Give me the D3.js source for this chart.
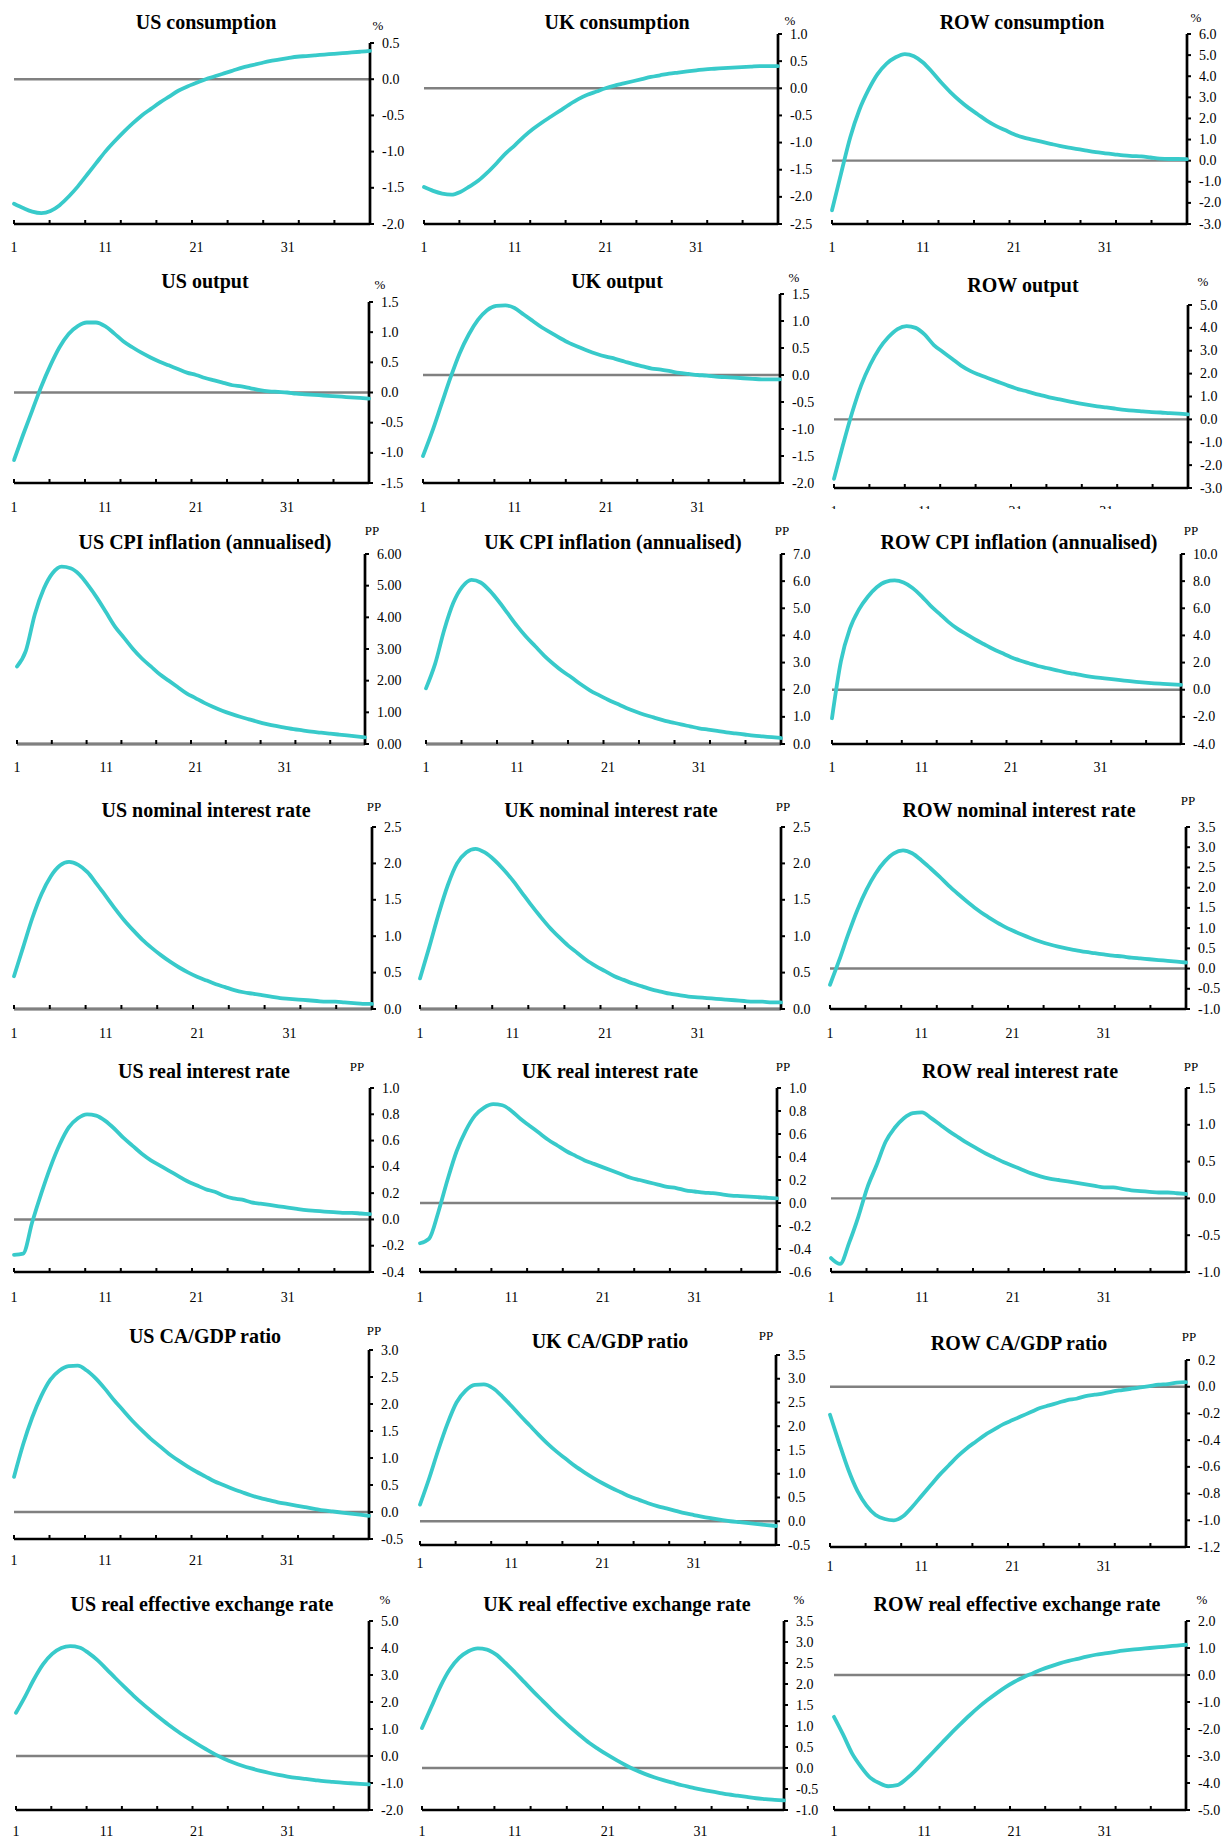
<!DOCTYPE html>
<meta charset="utf-8">
<style>
  body { margin: 0; background: #fff; }
  svg text { font-family: "Liberation Serif", "Times New Roman", serif; fill: #000; }
</style>
<body>
<svg id="chart" width="1225" height="1838"></svg>
<script src="https://d3js.org/d3.v7.min.js"></script>
<script>

const periods = [1, 2, 3, 4, 5, 6, 7, 8, 9, 10, 11, 12, 13, 14, 15, 16, 17, 18, 19, 20,
                 21, 22, 23, 24, 25, 26, 27, 28, 29, 30, 31, 32, 33, 34, 35, 36, 37, 38, 39, 40];
const xLabels = [1, 11, 21, 31];

const titles = [
  "US consumption", "UK consumption", "ROW consumption",
  "US output", "UK output", "ROW output",
  "US CPI inflation (annualised)", "UK CPI inflation (annualised)", "ROW CPI inflation (annualised)",
  "US nominal interest  rate", "UK nominal interest  rate", "ROW nominal interest  rate",
  "US real interest rate", "UK real interest  rate", "ROW real interest rate",
  "US CA/GDP ratio", "UK CA/GDP ratio", "ROW CA/GDP ratio",
  "US real effective exchange rate", "UK real effective exchange rate", "ROW real effective exchange rate"
];
const units = ["%", "%", "%", "%", "%", "%", "PP", "PP", "PP", "PP", "PP", "PP",
               "PP", "PP", "PP", "PP", "PP", "PP", "%", "%", "%"];

// series values (deviation from baseline)
const usConsumption = [-1.72, -1.78, -1.83, -1.85, -1.82, -1.74, -1.62, -1.48, -1.32, -1.16,
  -1.00, -0.86, -0.73, -0.61, -0.50, -0.41, -0.32, -0.24, -0.16, -0.10,
  -0.05, 0.00, 0.04, 0.08, 0.12, 0.16, 0.19, 0.22, 0.25, 0.27,
  0.29, 0.31, 0.32, 0.33, 0.34, 0.35, 0.36, 0.37, 0.38, 0.39];
const ukConsumption = [-1.82, -1.89, -1.94, -1.96, -1.91, -1.81, -1.70, -1.55, -1.38, -1.20,
  -1.05, -0.89, -0.75, -0.63, -0.52, -0.41, -0.30, -0.20, -0.12, -0.06,
  0.00, 0.05, 0.09, 0.13, 0.17, 0.21, 0.24, 0.27, 0.29, 0.31,
  0.33, 0.35, 0.36, 0.37, 0.38, 0.39, 0.40, 0.41, 0.41, 0.41];
const rowConsumption = [-2.35, -0.6, 1.1, 2.4, 3.35, 4.1, 4.6, 4.9, 5.05, 4.95,
  4.65, 4.2, 3.7, 3.25, 2.85, 2.5, 2.2, 1.9, 1.65, 1.45,
  1.25, 1.1, 1.0, 0.9, 0.8, 0.7, 0.62, 0.55, 0.47, 0.4,
  0.35, 0.3, 0.25, 0.22, 0.2, 0.15, 0.1, 0.08, 0.08, 0.07];

const usOutput = [-1.12, -0.7, -0.3, 0.1, 0.45, 0.75, 0.97, 1.1, 1.16, 1.16,
  1.1, 0.98, 0.85, 0.75, 0.66, 0.58, 0.51, 0.45, 0.39, 0.33,
  0.29, 0.24, 0.2, 0.16, 0.12, 0.1, 0.07, 0.04, 0.02, 0.01,
  0.0, -0.02, -0.03, -0.04, -0.05, -0.06, -0.07, -0.08, -0.09, -0.1];
const ukOutput = [-1.5, -1.05, -0.55, -0.05, 0.4, 0.75, 1.02, 1.2, 1.28, 1.29,
  1.24, 1.12, 1.0, 0.88, 0.78, 0.68, 0.59, 0.52, 0.45, 0.39,
  0.34, 0.3, 0.25, 0.2, 0.16, 0.12, 0.1, 0.07, 0.04, 0.02,
  0.0, -0.01, -0.03, -0.04, -0.05, -0.06, -0.07, -0.08, -0.08, -0.08];
const rowOutput = [-2.6, -1.1, 0.3, 1.5, 2.4, 3.1, 3.6, 3.95, 4.08, 4.0,
  3.7, 3.25, 2.95, 2.65, 2.35, 2.12, 1.95, 1.8, 1.65, 1.5,
  1.36, 1.25, 1.14, 1.04, 0.94, 0.86, 0.78, 0.7, 0.63, 0.57,
  0.52, 0.47, 0.42, 0.38, 0.35, 0.32, 0.3, 0.27, 0.25, 0.22];

const usCpi = [2.45, 2.95, 4.1, 4.9, 5.4, 5.6, 5.55, 5.35, 5.0, 4.6,
  4.15, 3.7, 3.35, 3.0, 2.7, 2.45, 2.2, 2.0, 1.8, 1.6,
  1.45, 1.3, 1.17, 1.05, 0.95, 0.86, 0.78, 0.7, 0.63, 0.57,
  0.52, 0.47, 0.43, 0.39, 0.36, 0.33, 0.3, 0.27, 0.24, 0.21];
const ukCpi = [2.05, 2.95, 4.2, 5.2, 5.8, 6.05, 5.95, 5.65, 5.25, 4.8,
  4.35, 3.95, 3.6, 3.25, 2.95, 2.68, 2.45, 2.2, 1.98, 1.8,
  1.63, 1.48, 1.33, 1.2, 1.08, 0.98, 0.88, 0.8, 0.72, 0.65,
  0.58, 0.53, 0.48, 0.43, 0.39, 0.35, 0.31, 0.28, 0.25, 0.22];
const rowCpi = [-2.1, 2.1, 4.5, 5.9, 6.85, 7.55, 7.95, 8.05, 7.9, 7.5,
  6.9, 6.2, 5.6, 5.0, 4.5, 4.1, 3.7, 3.35, 3.0, 2.7,
  2.4, 2.15, 1.95, 1.75, 1.6, 1.45, 1.3, 1.18, 1.05, 0.95,
  0.87, 0.8, 0.72, 0.65, 0.58, 0.52, 0.47, 0.43, 0.39, 0.35];

const usNominal = [0.45, 0.85, 1.25, 1.58, 1.82, 1.97, 2.02, 1.98, 1.88, 1.72,
  1.55, 1.38, 1.22, 1.08, 0.95, 0.84, 0.74, 0.65, 0.57, 0.5,
  0.44, 0.39, 0.34, 0.3, 0.26, 0.23, 0.21, 0.19, 0.17, 0.15,
  0.14, 0.13, 0.12, 0.11, 0.1, 0.1, 0.09, 0.08, 0.07, 0.07];
const ukNominal = [0.42, 0.85, 1.3, 1.7, 2.0, 2.15, 2.2, 2.15, 2.05, 1.92,
  1.77, 1.6, 1.43, 1.27, 1.12, 0.99, 0.87, 0.77, 0.67, 0.59,
  0.52, 0.45, 0.4, 0.35, 0.31, 0.27, 0.24, 0.21, 0.19, 0.17,
  0.16, 0.15, 0.14, 0.13, 0.12, 0.11, 0.1, 0.1, 0.09, 0.09];
const rowNominal = [-0.4, 0.2, 0.85, 1.45, 1.95, 2.35, 2.65, 2.85, 2.92, 2.85,
  2.68, 2.48, 2.27, 2.05, 1.85, 1.66, 1.48, 1.32, 1.18, 1.05,
  0.94, 0.84, 0.75, 0.67, 0.6, 0.54, 0.49, 0.45, 0.41, 0.38,
  0.35, 0.32, 0.3, 0.27, 0.25, 0.23, 0.21, 0.19, 0.17, 0.15];

const usReal = [-0.27, -0.26, -0.02, 0.2, 0.4, 0.57, 0.7, 0.77, 0.8, 0.79,
  0.75, 0.69, 0.62, 0.56, 0.5, 0.45, 0.41, 0.37, 0.33, 0.29,
  0.26, 0.23, 0.21, 0.18, 0.16, 0.15, 0.13, 0.12, 0.11, 0.1,
  0.09, 0.08, 0.07, 0.065, 0.06, 0.055, 0.05, 0.05, 0.045, 0.04];
const ukReal = [-0.35, -0.31, -0.08, 0.2, 0.45, 0.63, 0.76, 0.83, 0.86, 0.85,
  0.8, 0.73, 0.67, 0.61, 0.55, 0.5, 0.45, 0.41, 0.37, 0.34,
  0.31, 0.28, 0.25, 0.22, 0.2, 0.18, 0.16, 0.14, 0.13, 0.11,
  0.1, 0.09, 0.085, 0.075, 0.065, 0.06, 0.055, 0.05, 0.045, 0.04];
const rowReal = [-0.81, -0.89, -0.6, -0.25, 0.15, 0.45, 0.77, 0.96, 1.09, 1.16,
  1.17, 1.09, 1.0, 0.91, 0.83, 0.75, 0.68, 0.61, 0.55, 0.49,
  0.44, 0.39, 0.34, 0.3, 0.27, 0.25, 0.23, 0.21, 0.19, 0.17,
  0.15, 0.15, 0.13, 0.11, 0.1, 0.09, 0.08, 0.08, 0.07, 0.06];

const usCa = [0.65, 1.25, 1.75, 2.15, 2.45, 2.62, 2.7, 2.71, 2.62, 2.47,
  2.28, 2.07, 1.88, 1.69, 1.52, 1.36, 1.22, 1.08, 0.96, 0.85,
  0.75, 0.66, 0.57, 0.5, 0.43, 0.37, 0.31, 0.26, 0.22, 0.18,
  0.15, 0.12, 0.09, 0.06, 0.03, 0.01, -0.01, -0.03, -0.05, -0.07];
const ukCa = [0.35, 0.9, 1.5, 2.05, 2.5, 2.75, 2.87, 2.88, 2.8, 2.63,
  2.43, 2.22, 2.02, 1.82, 1.63, 1.46, 1.31, 1.16, 1.03, 0.91,
  0.8, 0.7, 0.61, 0.52, 0.45, 0.38, 0.32, 0.27, 0.22, 0.17,
  0.13, 0.09, 0.06, 0.03, 0.0, -0.02, -0.04, -0.06, -0.08, -0.1];
const rowCa = [-0.21, -0.42, -0.62, -0.78, -0.89, -0.96, -0.99, -1.0, -0.97, -0.9,
  -0.82, -0.74, -0.66, -0.59, -0.52, -0.46, -0.41, -0.36, -0.32, -0.28,
  -0.25, -0.22, -0.19, -0.16, -0.14, -0.12, -0.1, -0.09, -0.07, -0.06,
  -0.05, -0.035, -0.025, -0.015, -0.005, 0.005, 0.015, 0.02, 0.03, 0.035];

const usReer = [1.6, 2.2, 2.85, 3.4, 3.78, 4.0, 4.07, 4.02, 3.82, 3.55,
  3.22, 2.88, 2.55, 2.23, 1.93, 1.65, 1.38, 1.12, 0.88, 0.66,
  0.45, 0.25, 0.06, -0.1, -0.24, -0.36, -0.46, -0.55, -0.63, -0.7,
  -0.76, -0.81, -0.85, -0.89, -0.93, -0.96, -0.99, -1.01, -1.03, -1.05];
const ukReer = [0.95, 1.45, 1.95, 2.35, 2.62, 2.78, 2.85, 2.82, 2.7, 2.5,
  2.28, 2.05, 1.82, 1.6, 1.38, 1.17, 0.97, 0.78, 0.6, 0.45,
  0.31, 0.18, 0.06, -0.05, -0.14, -0.22, -0.29, -0.35, -0.41, -0.46,
  -0.51, -0.55, -0.59, -0.63, -0.66, -0.69, -0.72, -0.74, -0.76, -0.77];
const rowReer = [-1.55, -2.2, -2.9, -3.4, -3.8, -4.0, -4.12, -4.08, -3.85, -3.55,
  -3.2, -2.85, -2.5, -2.15, -1.82, -1.5, -1.2, -0.93, -0.68, -0.45,
  -0.25, -0.08, 0.06, 0.2, 0.32, 0.43, 0.52, 0.6, 0.68, 0.75,
  0.8, 0.85, 0.9, 0.94, 0.97, 1.0, 1.03, 1.06, 1.09, 1.12];

// y-axis tick labels of each panel
const ticksUsConsumption = [-2.0, -1.5, -1.0, -0.5, 0.0, 0.5];
const ticksUkConsumption = [-2.5, -2.0, -1.5, -1.0, -0.5, 0.0, 0.5, 1.0];
const ticksRowConsumption = [-3, -2, -1, 0, 1, 2, 3, 4, 5, 6];
const ticksUsOutput = [-1.5, -1.0, -0.5, 0.0, 0.5, 1.0, 1.5];
const ticksUkOutput = [-2.0, -1.5, -1.0, -0.5, 0.0, 0.5, 1.0, 1.5];
const ticksRowOutput = [-3, -2, -1, 0, 1, 2, 3, 4, 5];
const ticksUsCpi = [0, 1, 2, 3, 4, 5, 6];
const ticksUkCpi = [0, 1, 2, 3, 4, 5, 6, 7];
const ticksRowCpi = [-4, -2, 0, 2, 4, 6, 8, 10];
const ticksUsNominal = [0.0, 0.5, 1.0, 1.5, 2.0, 2.5];
const ticksUkNominal = [0.0, 0.5, 1.0, 1.5, 2.0, 2.5];
const ticksRowNominal = [-1.0, -0.5, 0.0, 0.5, 1.0, 1.5, 2.0, 2.5, 3.0, 3.5];
const ticksUsReal = [-0.4, -0.2, 0.0, 0.2, 0.4, 0.6, 0.8, 1.0];
const ticksUkReal = [-0.6, -0.4, -0.2, 0.0, 0.2, 0.4, 0.6, 0.8, 1.0];
const ticksRowReal = [-1.0, -0.5, 0.0, 0.5, 1.0, 1.5];
const ticksUsCa = [-0.5, 0.0, 0.5, 1.0, 1.5, 2.0, 2.5, 3.0];
const ticksUkCa = [-0.5, 0.0, 0.5, 1.0, 1.5, 2.0, 2.5, 3.0, 3.5];
const ticksRowCa = [-1.2, -1.0, -0.8, -0.6, -0.4, -0.2, 0.0, 0.2];
const ticksUsReer = [-2, -1, 0, 1, 2, 3, 4, 5];
const ticksUkReer = [-1.0, -0.5, 0.0, 0.5, 1.0, 1.5, 2.0, 2.5, 3.0, 3.5];
const ticksRowReer = [-5, -4, -3, -2, -1, 0, 1, 2];

const seriesList = [usConsumption, ukConsumption, rowConsumption, usOutput, ukOutput, rowOutput,
  usCpi, ukCpi, rowCpi, usNominal, ukNominal, rowNominal, usReal, ukReal, rowReal,
  usCa, ukCa, rowCa, usReer, ukReer, rowReer];
const tickList = [ticksUsConsumption, ticksUkConsumption, ticksRowConsumption,
  ticksUsOutput, ticksUkOutput, ticksRowOutput, ticksUsCpi, ticksUkCpi, ticksRowCpi,
  ticksUsNominal, ticksUkNominal, ticksRowNominal, ticksUsReal, ticksUkReal, ticksRowReal,
  ticksUsCa, ticksUkCa, ticksRowCa, ticksUsReer, ticksUkReer, ticksRowReer];

// plot box of each panel: x0, x1, top, bottom, title centre, unit label, x label line
const layout = [
  {x0: 14, x1: 370, top: 43, bottom: 224, tx: 206, ty: 22, ux: 378, uy: 25, ly: 247, dec: 1},
  {x0: 424, x1: 778, top: 34, bottom: 224, tx: 617, ty: 22, ux: 790, uy: 20, ly: 247, dec: 1},
  {x0: 832, x1: 1187, top: 34, bottom: 224, tx: 1022, ty: 22, ux: 1196, uy: 17, ly: 247, dec: 1},
  {x0: 14, x1: 369, top: 302, bottom: 483, tx: 205, ty: 281, ux: 380, uy: 284, ly: 507, dec: 1},
  {x0: 423, x1: 780, top: 294, bottom: 483, tx: 617, ty: 281, ux: 794, uy: 277, ly: 507, dec: 1},
  {x0: 834, x1: 1188, top: 305, bottom: 488, tx: 1023, ty: 285, ux: 1203, uy: 281, ly: 511, dec: 1, clip: 509},
  {x0: 17, x1: 365, top: 554, bottom: 744, tx: 205, ty: 542, ux: 372, uy: 530, ly: 767, dec: 2},
  {x0: 426, x1: 781, top: 554, bottom: 744, tx: 613, ty: 542, ux: 782, uy: 530, ly: 767, dec: 1},
  {x0: 832, x1: 1181, top: 554, bottom: 744, tx: 1019, ty: 542, ux: 1191, uy: 530, ly: 767, dec: 1},
  {x0: 14, x1: 372, top: 827, bottom: 1009, tx: 206, ty: 810, ux: 374, uy: 806, ly: 1033, dec: 1},
  {x0: 420, x1: 781, top: 827, bottom: 1009, tx: 611, ty: 810, ux: 783, uy: 806, ly: 1033, dec: 1},
  {x0: 830, x1: 1186, top: 827, bottom: 1009, tx: 1019, ty: 810, ux: 1188, uy: 800, ly: 1033, dec: 1},
  {x0: 14, x1: 370, top: 1088, bottom: 1272, tx: 204, ty: 1071, ux: 357, uy: 1066, ly: 1297, dec: 1},
  {x0: 420, x1: 777, top: 1088, bottom: 1272, tx: 610, ty: 1071, ux: 783, uy: 1066, ly: 1297, dec: 1},
  {x0: 831, x1: 1186, top: 1088, bottom: 1272, tx: 1020, ty: 1071, ux: 1191, uy: 1066, ly: 1297, dec: 1},
  {x0: 14, x1: 369, top: 1350, bottom: 1539, tx: 205, ty: 1336, ux: 374, uy: 1330, ly: 1560, dec: 1},
  {x0: 420, x1: 776, top: 1355, bottom: 1545, tx: 610, ty: 1341, ux: 766, uy: 1335, ly: 1563, dec: 1},
  {x0: 830, x1: 1186, top: 1360, bottom: 1547, tx: 1019, ty: 1343, ux: 1189, uy: 1336, ly: 1566, dec: 1},
  {x0: 16, x1: 369, top: 1621, bottom: 1810, tx: 202, ty: 1604, ux: 385, uy: 1599, ly: 1831, dec: 1},
  {x0: 422, x1: 784, top: 1621, bottom: 1810, tx: 617, ty: 1604, ux: 799, uy: 1599, ly: 1831, dec: 1},
  {x0: 834, x1: 1186, top: 1621, bottom: 1810, tx: 1017, ty: 1604, ux: 1202, uy: 1599, ly: 1831, dec: 1}
];

const lineColour = '#38CACA';
const zeroColour = '#808080';

const svg = d3.select('#chart');
svg.append('rect').attr('width', 1225).attr('height', 1838).attr('fill', '#fff');
const defs = svg.append('defs');

layout.forEach((p, i) => {
  const values = seriesList[i];
  const ticks = tickList[i];
  const data = periods.map((t, j) => ({t: t, v: values[j]}));

  const x = d3.scaleLinear().domain([1, 40]).range([p.x0, p.x1]);
  const y = d3.scaleLinear().domain(d3.extent(ticks)).range([p.bottom, p.top]);

  const g = svg.append('g');

  g.append('text')
    .attr('x', p.tx).attr('y', p.ty)
    .attr('text-anchor', 'middle')
    .attr('dominant-baseline', 'central')
    .style('font-size', '20px')
    .style('font-weight', 'bold')
    .text(titles[i]);

  g.append('text')
    .attr('x', p.ux).attr('y', p.uy)
    .attr('text-anchor', 'middle')
    .attr('dominant-baseline', 'central')
    .style('font-size', '13px')
    .text(units[i]);

  // x axis
  g.append('line')
    .attr('x1', p.x0).attr('x2', p.x1)
    .attr('y1', p.bottom).attr('y2', p.bottom)
    .attr('stroke', '#000').attr('stroke-width', 2.7);

  // zero line
  g.append('line')
    .attr('x1', p.x0).attr('x2', p.x1)
    .attr('y1', y(0)).attr('y2', y(0))
    .attr('stroke', zeroColour).attr('stroke-width', 2.4);

  // x ticks, 10 intervals across the axis
  const xt = d3.range(11).map(k => p.x0 + k * (p.x1 - p.x0) / 10);
  g.selectAll('.xt').data(xt).enter().append('line')
    .attr('x1', d => d).attr('x2', d => d)
    .attr('y1', p.bottom - 4).attr('y2', p.bottom)
    .attr('stroke', '#000').attr('stroke-width', 2);

  const lg = g.append('g');
  if (p.clip) {
    const id = 'clip' + i;
    defs.append('clipPath').attr('id', id)
      .append('rect').attr('x', p.x0 - 20).attr('y', 0)
      .attr('width', p.x1 - p.x0 + 40).attr('height', p.clip);
    lg.attr('clip-path', 'url(#' + id + ')');
  }
  lg.selectAll('text').data(xLabels).enter().append('text')
    .attr('x', d => x(d)).attr('y', p.ly)
    .attr('text-anchor', 'middle')
    .attr('dominant-baseline', 'central')
    .style('font-size', '14px')
    .text(d => d);

  // y axis on the right
  g.append('line')
    .attr('x1', p.x1).attr('x2', p.x1)
    .attr('y1', p.top).attr('y2', p.bottom + 1)
    .attr('stroke', '#000').attr('stroke-width', 2.7);

  g.selectAll('.yt').data(ticks).enter().append('line')
    .attr('x1', p.x1).attr('x2', p.x1 + 4)
    .attr('y1', d => y(d)).attr('y2', d => y(d))
    .attr('stroke', '#000').attr('stroke-width', 2);

  g.selectAll('.yl').data(ticks).enter().append('text')
    .attr('x', p.x1 + 12).attr('y', d => y(d))
    .attr('dominant-baseline', 'central')
    .style('font-size', '14px')
    .text(d => d.toFixed(p.dec));

  const line = d3.line()
    .x(d => x(d.t))
    .y(d => y(d.v))
    .curve(d3.curveMonotoneX);

  g.append('path')
    .datum(data)
    .attr('d', line)
    .attr('fill', 'none')
    .attr('stroke', lineColour)
    .attr('stroke-width', 3.8)
    .attr('stroke-linejoin', 'round')
    .attr('stroke-linecap', 'round');
});

</script>
</body>
</html>
